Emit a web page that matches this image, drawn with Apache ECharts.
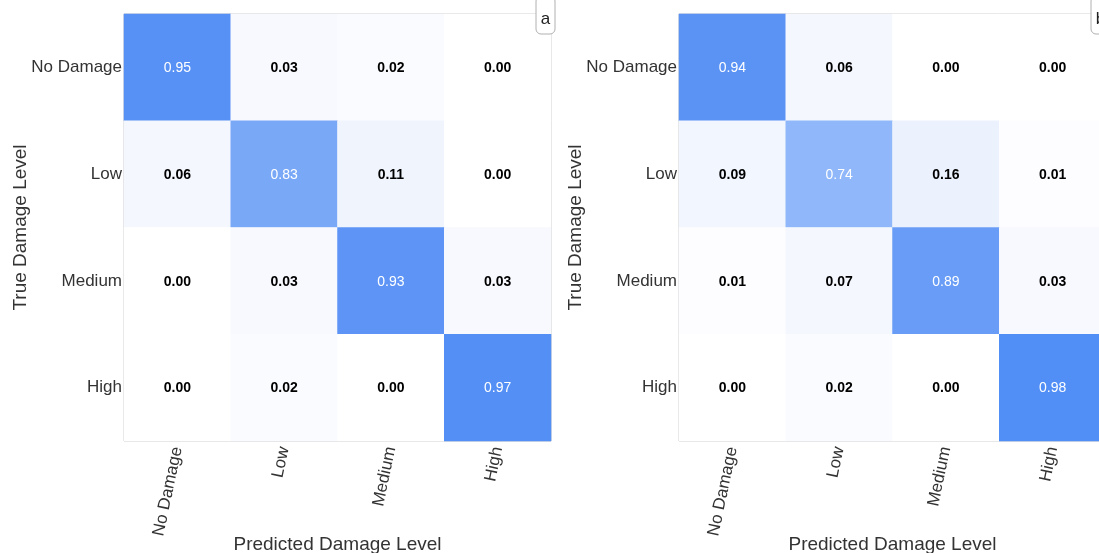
<!DOCTYPE html>
<html>
<head>
<meta charset="utf-8">
<script src="https://cdn.jsdelivr.net/npm/echarts@6/dist/echarts.min.js"></script>
<style>
  html, body { margin: 0; padding: 0; background: #ffffff; }
  #chart { width: 1099px; height: 553px; }
</style>
</head>
<body>
<div id="chart"></div>
<script>
// Damage level classes (rows = true level, columns = predicted level)
const levels = ['No Damage', 'Low', 'Medium', 'High'];

// Normalised confusion matrix, model a
const matrixA = [
  [0.95, 0.03, 0.02, 0.00],
  [0.06, 0.83, 0.11, 0.00],
  [0.00, 0.03, 0.93, 0.03],
  [0.00, 0.02, 0.00, 0.97]
];

// Normalised confusion matrix, model b
const matrixB = [
  [0.94, 0.06, 0.00, 0.00],
  [0.09, 0.74, 0.16, 0.01],
  [0.01, 0.07, 0.89, 0.03],
  [0.00, 0.02, 0.00, 0.98]
];

const panelLabels = ['a', 'b'];
const xAxisTitle = 'Predicted Damage Level';
const yAxisTitle = 'True Damage Level';

// colour ramp: value -> fill
const rampStops = [
  [0.00, [255, 255, 255]],
  [0.03, [248, 249, 254]],
  [0.16, [235, 242, 253]],
  [0.74, [143, 183, 249]],
  [0.83, [121, 168, 247]],
  [0.93, [93, 148, 245]],
  [1.00, [76, 139, 245]]
];
function rampColor(v) {
  for (let i = 1; i < rampStops.length; i++) {
    const [v1, c1] = rampStops[i];
    const [v0, c0] = rampStops[i - 1];
    if (v <= v1) {
      const t = (v - v0) / (v1 - v0);
      const c = c0.map((a, k) => Math.round(a + (c1[k] - a) * t));
      return 'rgb(' + c.join(',') + ')';
    }
  }
  const last = rampStops[rampStops.length - 1][1];
  return 'rgb(' + last.join(',') + ')';
}

function cells(matrix) {
  const out = [];
  matrix.forEach((row, r) => {
    row.forEach((v, c) => {
      const strong = v > 0.5;
      out.push({
        value: [c, r, v],
        itemStyle: { color: rampColor(v) },
        label: {
          color: strong ? '#ffffff' : '#000000',
          fontWeight: strong ? 'normal' : 'bold'
        }
      });
    });
  });
  return out;
}

const FONT = 'Liberation Sans, Arial, sans-serif';
const grids = [
  { left: 124, top: 14, width: 427, height: 427 },
  { left: 679, top: 14, width: 427, height: 427 }
];

const option = {
  animation: false,
  backgroundColor: '#ffffff',
  textStyle: { fontFamily: FONT },
  grid: grids.map(g => Object.assign({
    show: true, borderColor: '#c4c4c4', borderWidth: 1, backgroundColor: '#ffffff',
    containLabel: false, outerBoundsMode: 'none'
  }, g)),
  xAxis: grids.map((g, i) => ({
    type: 'category',
    gridIndex: i,
    data: levels,
    axisLine: { show: false },
    axisTick: { show: false },
    splitLine: { show: false },
    axisLabel: { rotate: 78, margin: 6, fontSize: 17, color: '#333333', fontFamily: FONT },
    name: xAxisTitle,
    nameLocation: 'middle',
    nameGap: 94,
    nameMoveOverlap: false,
    nameTextStyle: { fontSize: 19, color: '#333333', fontFamily: FONT }
  })),
  yAxis: grids.map((g, i) => ({
    type: 'category',
    gridIndex: i,
    data: levels,
    inverse: true,
    axisLine: { show: false },
    axisTick: { show: false },
    splitLine: { show: false },
    axisLabel: { margin: 2, fontSize: 17, color: '#333333', fontFamily: FONT },
    name: yAxisTitle,
    nameLocation: 'middle',
    nameGap: 94,
    nameMoveOverlap: false,
    nameTextStyle: { fontSize: 19, color: '#333333', fontFamily: FONT }
  })),
  series: [matrixA, matrixB].map((m, i) => ({
    type: 'heatmap',
    xAxisIndex: i,
    yAxisIndex: i,
    data: cells(m),
    label: {
      show: true,
      fontSize: 14,
      fontFamily: FONT,
      offset: [0, 1],
      formatter: p => p.value[2].toFixed(2)
    },
    emphasis: { disabled: true }
  })),
  // small rounded panel tags in the top-right corner of each matrix
  graphic: grids.map((g, i) => ({
    type: 'group',
    x: g.left + g.width - 15,
    y: -4,
    z: 100,
    children: [
      {
        type: 'rect',
        z: 100,
        shape: { x: 0, y: 0, width: 19, height: 38, r: 5 },
        style: { fill: '#ffffff', stroke: '#b0b0b0', lineWidth: 1 }
      },
      {
        type: 'text',
        z: 101,
        x: 9.5, y: 23,
        style: {
          text: panelLabels[i], fontSize: 17, fontFamily: FONT,
          fill: '#222222', align: 'center', verticalAlign: 'middle'
        }
      }
    ]
  }))
};

const chart = echarts.init(document.getElementById('chart'), null, { renderer: 'canvas' });
chart.setOption(option);
</script>
</body>
</html>
